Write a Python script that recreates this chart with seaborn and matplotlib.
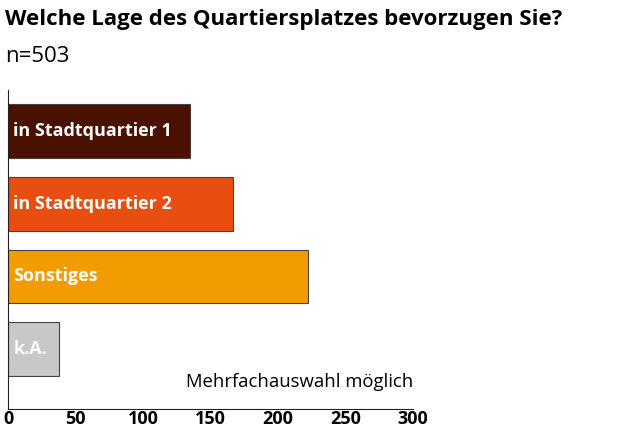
import pandas as pd
import seaborn as sns
import matplotlib.pyplot as plt

categories = ["in Stadtquartier 1", "in Stadtquartier 2", "Sonstiges", "k.A."]
values = [135, 167, 222, 38]
colors = ["#4a1000", "#e84e10", "#f39c00", "#c8c8c8"]
xticks = [0, 50, 100, 150, 200, 250, 300]

df = pd.DataFrame({"Lage": categories, "Anzahl": values})

sns.set_style("white")
plt.rcParams['font.family'] = ['Open Sans', 'DejaVu Sans']
plt.rcParams['text.color'] = 'black'
plt.rcParams['xtick.color'] = 'black'

fig = plt.figure(figsize=(6.39, 4.33), dpi=100)
ax = fig.add_axes([8 / 639, 24 / 433, 405 / 639, 319 / 433])

sns.barplot(data=df, x="Anzahl", y="Lage", hue="Lage", palette=colors,
            legend=False, width=0.74, edgecolor="#444444", linewidth=0.8,
            saturation=1, ax=ax)

# labels inside bars
for i, cat in enumerate(categories):
    ax.text(4, i, cat, color="white", fontweight="bold", fontsize=13,
            va="center", ha="left")

ax.set_xlim(0, 300)
ax.set_ylim(3.82, -0.56)
ax.set_xticks(xticks)
ax.set_xticklabels([str(t) for t in xticks], fontweight="bold", fontsize=13)
ax.set_yticks([])
ax.set_xlabel("")
ax.set_ylabel("")
ax.tick_params(axis="x", direction="in", length=6, width=1, color="#222222", pad=1)

for side in ["top", "right"]:
    ax.spines[side].set_visible(False)
ax.spines["left"].set_color("#222222")
ax.spines["bottom"].set_color("#222222")

ax.text(300, 3.45, "Mehrfachauswahl möglich", ha="right", va="center", fontsize=13.3)

fig.text(5 / 639, 1 - 20 / 433, "Welche Lage des Quartiersplatzes bevorzugen Sie?",
         fontsize=16, fontweight="bold", va="center", ha="left")
fig.text(5 / 639, 1 - 57 / 433, "n=503", fontsize=16, va="center", ha="left")

fig.savefig("out.png", dpi=100)
